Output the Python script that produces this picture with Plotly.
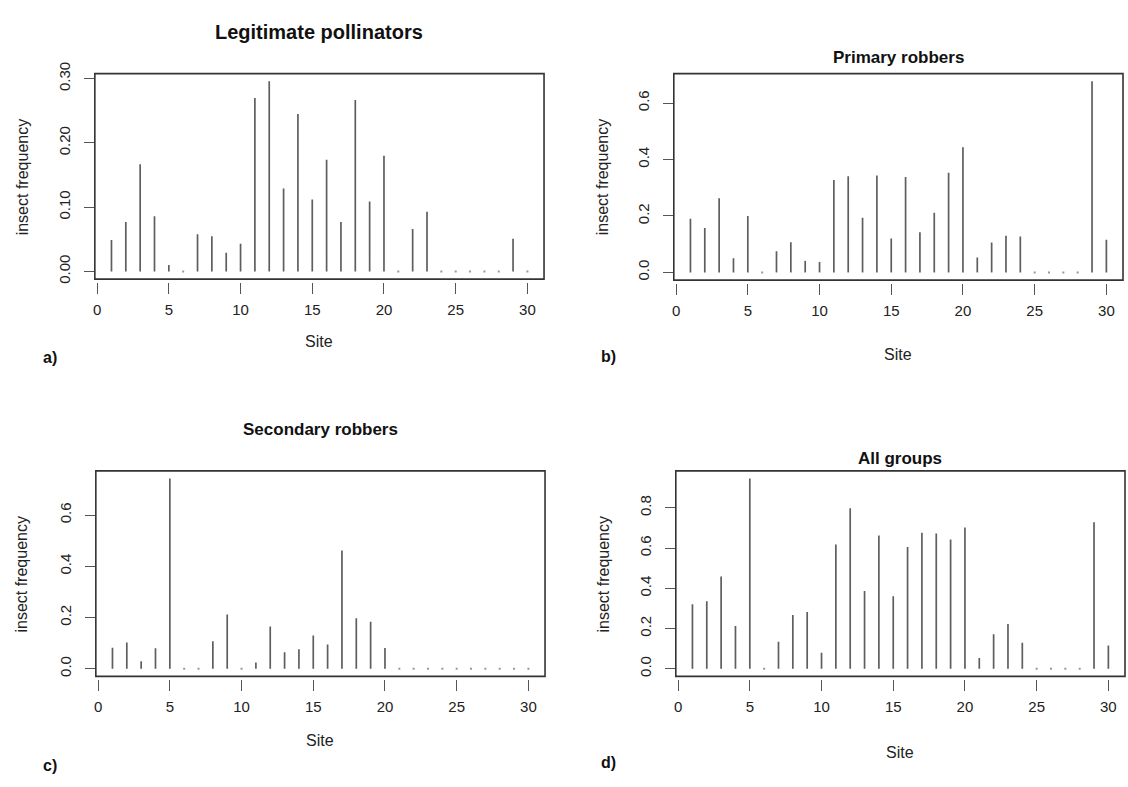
import plotly.graph_objects as go

W, H = 1128, 787

sites = list(range(1, 31))

legitimate = [0.049, 0.077, 0.167, 0.086, 0.010, 0.0, 0.058, 0.055, 0.029, 0.043,
              0.270, 0.296, 0.129, 0.245, 0.112, 0.174, 0.077, 0.267, 0.109, 0.180,
              0.0, 0.066, 0.093, 0.0, 0.0, 0.0, 0.0, 0.0, 0.051, 0.0]
primary = [0.190, 0.157, 0.263, 0.050, 0.200, 0.0, 0.075, 0.107, 0.041, 0.037,
           0.327, 0.341, 0.194, 0.343, 0.120, 0.338, 0.142, 0.211, 0.353, 0.443,
           0.053, 0.106, 0.130, 0.127, 0.0, 0.0, 0.0, 0.0, 0.677, 0.116]
secondary = [0.082, 0.102, 0.029, 0.080, 0.743, 0.0, 0.0, 0.107, 0.212, 0.0,
             0.024, 0.165, 0.064, 0.076, 0.130, 0.095, 0.462, 0.197, 0.183, 0.081,
             0.0, 0.0, 0.0, 0.0, 0.0, 0.0, 0.0, 0.0, 0.0, 0.0]
all_groups = [0.320, 0.335, 0.459, 0.212, 0.946, 0.0, 0.134, 0.267, 0.282, 0.080,
              0.618, 0.798, 0.386, 0.662, 0.361, 0.605, 0.676, 0.673, 0.642, 0.702,
              0.053, 0.171, 0.222, 0.129, 0.0, 0.0, 0.0, 0.0, 0.728, 0.116]

titles = ["Legitimate pollinators", "Primary robbers", "Secondary robbers", "All groups"]
panel_letters = ["a)", "b)", "c)", "d)"]
x_ticks = [0, 5, 10, 15, 20, 25, 30]
y_ticks = [
    [0.00, 0.10, 0.20, 0.30],
    [0.0, 0.2, 0.4, 0.6],
    [0.0, 0.2, 0.4, 0.6],
    [0.0, 0.2, 0.4, 0.6, 0.8],
]
y_fmt = [".2f", ".1f", ".1f", ".1f"]
series = [legitimate, primary, secondary, all_groups]

# layout (pixel geometry)
boxes = [  # left, right, top, bottom
    (93, 543, 63, 273),
    (673, 1123, 63, 274),
    (94, 544, 469, 679),
    (675, 1125, 469, 679),
]
title_pos = [(318, 20), (898, 47), (319, 427), (900, 456)]
title_size = [20, 17, 17, 17]
site_pos = [(318, 337), (898, 350), (319, 745), (900, 757)]
letter_pos = [(48, 353), (608, 352), (48, 770), (608, 767)]
ylab_pos = [(20, 168), (601, 168), (20, 574), (603, 574)]

FONT = "Liberation Sans, Arial, sans-serif"
TXT = "#222222"

fig = go.Figure()

def px_x(x):
    return x / W

def px_y(y):
    return 1 - y / H

for i, vals in enumerate(series):
    n = "" if i == 0 else str(i + 1)
    xa, ya = "x" + n, "y" + n
    xs, ys = [], []
    zx, zy = [], []
    for s, v in zip(sites, vals):
        if v > 0:
            xs += [s, s, None]
            ys += [0, v, None]
        else:
            zx.append(s)
            zy.append(0)
    fig.add_trace(go.Scatter(x=xs, y=ys, mode="lines", xaxis=xa, yaxis=ya,
                             line=dict(color="#5e5e5e", width=1.7),
                             hoverinfo="skip", showlegend=False))
    fig.add_trace(go.Scatter(x=zx, y=zy, mode="markers", xaxis=xa, yaxis=ya,
                             marker=dict(symbol="square", size=2, color="#999999",
                                         line=dict(width=0)),
                             hoverinfo="skip", showlegend=False))

    l, r, t, b = boxes[i]
    ymax = max(vals)
    pad_y = 0.04 * ymax
    pad_x = 0.04 * (max(sites) - min(sites))
    xdom = [px_x(l), px_x(r)]
    ydom = [px_y(b), px_y(t)]
    fig.layout["xaxis" + n] = dict(
        domain=xdom, anchor="free", position=px_y(b + 3),
        range=[min(sites) - pad_x, max(sites) + pad_x],
        tickmode="array", tickvals=x_ticks, ticktext=[str(v) for v in x_ticks],
        ticks="outside", ticklen=11, tickwidth=1.2, tickcolor="#555555",
        showline=False, showgrid=False, zeroline=False,
        tickfont=dict(family=FONT, size=15, color=TXT),
        ticklabelstandoff=3,
    )
    fig.layout["yaxis" + n] = dict(
        domain=ydom, anchor=xa,
        range=[-pad_y, ymax + pad_y],
        tickmode="array", tickvals=y_ticks[i], tickformat=y_fmt[i],
        ticks="outside", ticklen=10, tickwidth=1.2, tickcolor="#555555",
        showline=False, showgrid=False, zeroline=False,
        tickangle=-90,
        tickfont=dict(family=FONT, size=15, color=TXT),
        ticklabelstandoff=8,
    )
    fig.add_shape(type="rect", xref=xa + " domain", yref=ya + " domain",
                  x0=0, x1=1, y0=0, y1=1, line=dict(color="#333333", width=1.6),
                  layer="above")

    tx, ty = title_pos[i]
    fig.add_annotation(text="<b>" + titles[i] + "</b>", x=px_x(tx), y=px_y(ty),
                       xref="paper", yref="paper", showarrow=False,
                       xanchor="center", yanchor="middle",
                       font=dict(family=FONT, size=title_size[i], color="#111111"))
    sx, sy = site_pos[i]
    fig.add_annotation(text="Site", x=px_x(sx), y=px_y(sy),
                       xref="paper", yref="paper", showarrow=False,
                       xanchor="center", yanchor="middle",
                       font=dict(family=FONT, size=16, color=TXT))
    lx, ly = letter_pos[i]
    fig.add_annotation(text="<b>" + panel_letters[i] + "</b>", x=px_x(lx), y=px_y(ly),
                       xref="paper", yref="paper", showarrow=False,
                       xanchor="center", yanchor="middle",
                       font=dict(family=FONT, size=16, color="#111111"))
    qx, qy = ylab_pos[i]
    fig.add_annotation(text="insect frequency", x=px_x(qx), y=px_y(qy),
                       xref="paper", yref="paper", showarrow=False, textangle=-90,
                       xanchor="center", yanchor="middle",
                       font=dict(family=FONT, size=16, color=TXT))

fig.update_layout(
    width=W, height=H,
    margin=dict(l=0, r=0, t=0, b=0),
    paper_bgcolor="white", plot_bgcolor="white",
    showlegend=False,
)

fig.write_html("out.html")
